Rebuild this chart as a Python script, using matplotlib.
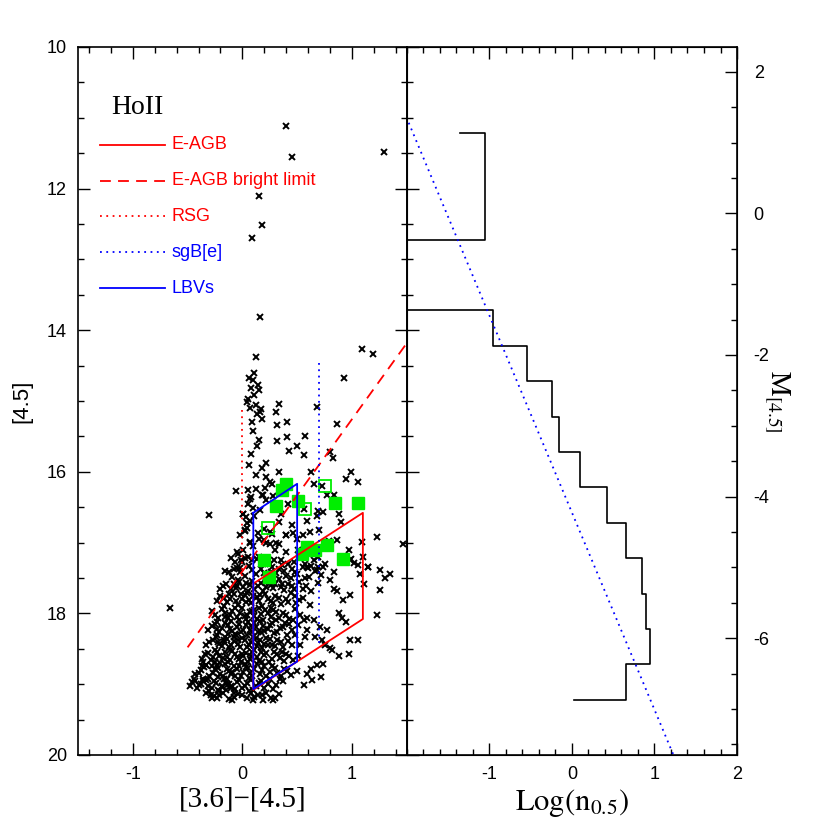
# CMD y función de luminosidad a 4.5 micras, Holmberg II

import numpy as np
import matplotlib
matplotlib.use('Agg')
import matplotlib.pyplot as plt
from matplotlib.ticker import MultipleLocator

plt.rcParams['font.family'] = 'Liberation Sans'
plt.rcParams['axes.unicode_minus'] = False
plt.rcParams['mathtext.fontset'] = 'stix'

# ---- Datos: fuentes puntuales ([3.6]-[4.5], [4.5]) ----
bright = np.array([[0.40, 11.12], [0.45, 11.55], [1.29, 11.48], [0.15, 12.10], [0.18, 12.51],
                   [0.09, 12.70], [0.16, 13.82], [0.12, 14.38], [1.09, 14.27], [1.19, 14.33],
                   [0.93, 14.67], [-0.30, 16.61], [-0.66, 17.93], [1.47, 17.02], [1.23, 16.92],
                   [1.09, 16.99]])

finger = np.array([[0.11, 14.61], [0.06, 14.67], [0.14, 14.78], [0.08, 14.81], [0.11, 14.91],
                   [0.05, 14.97], [0.07, 15.10], [0.17, 15.12], [0.13, 15.18], [0.16, 15.16],
                   [0.09, 15.30], [0.13, 15.63], [0.06, 15.90], [0.22, 15.87], [0.33, 15.04],
                   [0.31, 15.15], [0.32, 15.34], [0.41, 15.30], [0.32, 15.56], [0.41, 15.51],
                   [0.57, 15.49], [0.50, 15.63], [0.43, 15.71], [0.56, 15.77], [0.33, 16.00],
                   [0.22, 16.08], [0.25, 16.15], [0.27, 16.17], [0.68, 15.09], [0.86, 15.32],
                   [0.80, 15.72], [0.83, 15.80], [0.63, 16.00], [0.65, 16.17], [0.95, 16.10],
                   [0.99, 16.01], [1.06, 16.15], [0.84, 16.33], [0.73, 16.20], [0.77, 16.33],
                   [-0.06, 16.27], [0.10, 14.70], [0.15, 14.85], [0.04, 15.02], [0.12, 15.05],
                   [0.18, 15.25], [0.10, 15.42], [0.15, 15.55], [0.08, 15.75], [0.18, 15.95],
                   [0.12, 16.05]])

middle = np.array([[0.08, 16.35], [0.12, 16.25], [0.19, 16.33], [0.28, 16.34], [0.42, 16.45],
                   [0.56, 16.53], [0.01, 16.59], [0.03, 16.64], [0.10, 16.51], [0.11, 16.63],
                   [0.16, 16.54], [0.07, 16.70], [0.04, 16.79], [0.02, 16.84], [0.20, 16.81],
                   [0.14, 16.86], [0.25, 16.85], [0.27, 16.88], [0.33, 16.71], [0.59, 16.70],
                   [0.69, 16.55], [0.74, 16.57], [0.68, 16.62], [0.88, 16.59], [0.90, 16.71],
                   [0.70, 16.82], [0.62, 16.85], [0.55, 16.89], [0.40, 16.89], [0.46, 16.87],
                   [0.33, 17.02], [0.25, 17.02], [0.20, 16.97], [0.07, 17.00], [0.01, 17.11],
                   [-0.04, 17.16], [-0.07, 17.27], [-0.08, 17.37], [-0.01, 17.25], [0.05, 17.21],
                   [0.09, 17.25], [0.13, 17.23], [0.19, 17.30], [0.25, 17.30], [0.29, 17.25],
                   [0.40, 17.14], [0.42, 17.30], [0.51, 17.11], [0.57, 17.30], [0.65, 17.25],
                   [0.69, 17.21], [0.75, 17.30], [0.86, 16.97], [0.79, 16.98], [0.97, 17.10],
                   [0.99, 17.23], [1.02, 17.29], [1.15, 17.35], [0.63, 17.33], [0.69, 17.35],
                   [0.01, 16.59], [0.04, 16.73], [0.02, 16.82], [0.07, 16.99], [-0.05, 17.13],
                   [0.02, 17.22], [-0.02, 17.36], [0.22, 17.01], [0.31, 17.01], [0.40, 16.89],
                   [0.18, 16.33], [0.21, 16.23], [0.07, 16.38], [0.05, 16.26], [0.05, 16.45],
                   [0.22, 16.40], [0.35, 16.60], [0.45, 16.75], [0.15, 16.95], [0.30, 17.10],
                   [0.50, 16.95], [0.60, 17.05], [-0.02, 16.90], [0.10, 17.05]])

wing = np.array([[0.84, 17.66], [0.86, 17.69], [0.92, 17.81], [0.98, 17.74], [0.88, 18.00],
                 [0.91, 18.07], [0.95, 18.12], [0.98, 18.38], [1.06, 18.38], [0.97, 18.58],
                 [0.88, 18.60], [0.80, 18.49], [0.82, 18.52], [0.75, 18.45], [0.73, 18.38],
                 [0.71, 18.19], [0.77, 18.23], [0.66, 18.33], [0.65, 18.09], [0.59, 18.23],
                 [0.57, 18.33], [0.56, 18.10], [0.59, 18.07], [1.23, 18.02], [1.26, 17.67],
                 [1.10, 17.20], [1.11, 17.58], [1.15, 17.35], [1.07, 17.44], [1.06, 17.32],
                 [0.98, 17.25], [1.26, 17.39], [1.30, 17.50], [1.35, 17.44], [0.84, 17.41],
                 [0.80, 17.53], [0.74, 17.34], [0.68, 17.39], [0.59, 17.34], [0.72, 18.90],
                 [0.64, 18.94], [0.63, 18.78], [0.68, 18.73], [0.74, 18.71], [0.56, 19.01],
                 [0.59, 18.85]])

core = np.array([[-0.12, 17.42], [-0.05, 17.36], [0.02, 17.47], [0.06, 17.33], [0.12, 17.45],
                 [0.17, 17.38], [0.22, 17.48], [0.27, 17.35], [0.31, 17.43], [0.36, 17.31],
                 [0.40, 17.47], [0.45, 17.37], [0.50, 17.44], [0.55, 17.34], [0.61, 17.48],
                 [0.66, 17.40], [0.72, 17.46], [-0.09, 17.49],
                 [-0.15, 17.58], [-0.10, 17.66], [-0.03, 17.55], [0.01, 17.63], [0.05, 17.69],
                 [0.09, 17.54], [0.14, 17.61], [0.19, 17.68], [0.24, 17.56], [0.28, 17.64],
                 [0.33, 17.52], [0.38, 17.67], [0.42, 17.59], [0.47, 17.66], [0.52, 17.55],
                 [0.58, 17.62], [0.63, 17.69], [0.69, 17.57],
                 [-0.20, 17.76], [-0.14, 17.84], [-0.08, 17.73], [-0.04, 17.88], [0.00, 17.79],
                 [0.04, 17.71], [0.08, 17.86], [0.13, 17.77], [0.18, 17.89], [0.21, 17.72],
                 [0.26, 17.82], [0.30, 17.75], [0.35, 17.87], [0.40, 17.79], [0.44, 17.71],
                 [0.49, 17.85], [0.55, 17.78], [0.62, 17.88], [-0.17, 17.90],
                 [-0.25, 18.02], [-0.19, 17.94], [-0.13, 18.07], [-0.09, 17.97], [-0.05, 18.05],
                 [0.00, 17.92], [0.03, 18.08], [0.07, 17.98], [0.11, 18.04], [0.15, 17.93],
                 [0.19, 18.09], [0.23, 18.00], [0.28, 17.95], [0.33, 18.06], [0.37, 17.99],
                 [0.43, 18.08], [0.48, 17.94], [0.53, 18.03], [-0.02, 18.00],
                 [-0.28, 18.18], [-0.21, 18.26], [-0.16, 18.13], [-0.11, 18.22], [-0.07, 18.29],
                 [-0.03, 18.15], [0.01, 18.24], [0.05, 18.12], [0.09, 18.27], [0.12, 18.19],
                 [0.16, 18.11], [0.20, 18.25], [0.25, 18.16], [0.29, 18.28], [0.34, 18.21],
                 [0.39, 18.14], [0.45, 18.24], [0.51, 18.17], [-0.13, 18.29],
                 [-0.30, 18.41], [-0.24, 18.33], [-0.19, 18.46], [-0.14, 18.36], [-0.10, 18.44],
                 [-0.06, 18.31], [-0.02, 18.48], [0.02, 18.38], [0.06, 18.45], [0.10, 18.33],
                 [0.14, 18.42], [0.18, 18.49], [0.22, 18.35], [0.27, 18.44], [0.32, 18.37],
                 [0.37, 18.47], [0.42, 18.39], [0.48, 18.31], [0.53, 18.45], [-0.08, 18.39],
                 [-0.34, 18.58], [-0.29, 18.66], [-0.23, 18.55], [-0.18, 18.63], [-0.13, 18.69],
                 [-0.09, 18.53], [-0.05, 18.61], [-0.01, 18.68], [0.03, 18.56], [0.07, 18.64],
                 [0.11, 18.52], [0.15, 18.67], [0.20, 18.59], [0.24, 18.69], [0.29, 18.54],
                 [0.34, 18.63], [0.40, 18.57], [0.46, 18.66], [0.51, 18.60],
                 [-0.40, 18.84], [-0.35, 18.76], [-0.30, 18.88], [-0.25, 18.79], [-0.20, 18.86],
                 [-0.16, 18.72], [-0.12, 18.81], [-0.07, 18.89], [-0.03, 18.74], [0.01, 18.83],
                 [0.05, 18.77], [0.09, 18.88], [0.13, 18.72], [0.18, 18.80], [0.22, 18.89],
                 [0.27, 18.75], [0.32, 18.84], [0.38, 18.78], [0.44, 18.87], [0.50, 18.81],
                 [-0.46, 18.97], [-0.41, 19.05], [-0.36, 18.92], [-0.31, 19.02], [-0.26, 18.95],
                 [-0.21, 19.09], [-0.17, 18.93], [-0.12, 19.00], [-0.07, 19.07], [-0.03, 18.94],
                 [0.02, 19.03], [0.06, 18.91], [0.10, 19.08], [0.15, 18.98], [0.20, 19.05],
                 [0.25, 18.93], [0.31, 19.01], [0.37, 18.96],
                 [-0.33, 19.13], [-0.26, 19.17], [-0.18, 19.12], [-0.12, 19.21], [-0.04, 19.14],
                 [0.04, 19.19], [0.08, 19.13], [0.14, 19.16], [0.22, 19.12], [0.26, 19.20],
                 [-0.18, 17.62], [-0.11, 17.80], [-0.06, 17.64], [0.03, 17.84], [0.07, 17.60],
                 [-0.16, 18.05], [-0.10, 18.11], [0.04, 18.02], [0.08, 18.18], [-0.23, 18.30],
                 [-0.17, 18.40], [-0.11, 18.52], [-0.04, 18.37], [0.00, 18.57], [0.04, 18.31],
                 [-0.20, 18.70], [-0.14, 18.61], [-0.08, 18.75], [0.02, 18.71], [0.08, 18.60],
                 [-0.27, 18.62], [-0.22, 18.90], [-0.15, 18.98], [-0.10, 18.85], [0.12, 18.35],
                 [0.17, 18.55], [0.17, 18.26], [0.23, 18.45], [0.11, 17.95], [0.16, 17.74],
                 [0.26, 17.92], [0.31, 18.10], [0.35, 17.63], [0.44, 17.50], [0.38, 17.40],
                 [0.30, 17.58], [0.48, 17.75], [0.57, 17.50], [0.41, 18.30], [0.36, 18.55],
                 [-0.04, 17.53], [-0.05, 17.62], [-0.01, 17.72]])

core_fill = np.array([[-0.10, 17.22], [0.00, 17.28], [0.15, 17.20], [0.35, 17.24], [0.47, 17.27],
                      [0.53, 17.21], [-0.16, 17.40], [-0.02, 17.42], [0.09, 17.39], [0.20, 17.43],
                      [0.26, 17.41], [0.33, 17.38], [0.48, 17.41], [0.60, 17.36], [-0.20, 17.66],
                      [-0.08, 17.59], [0.03, 17.57], [0.11, 17.66], [0.17, 17.57], [0.22, 17.63],
                      [0.26, 17.60], [0.36, 17.58], [0.45, 17.62], [0.55, 17.66], [-0.23, 17.83],
                      [-0.17, 17.78], [-0.12, 17.73], [-0.06, 17.82], [0.02, 17.74], [0.06, 17.81],
                      [0.10, 17.76], [0.15, 17.83], [0.23, 17.80], [0.28, 17.86], [0.33, 17.78],
                      [0.42, 17.84], [0.52, 17.81], [-0.28, 17.97], [-0.22, 18.06], [-0.16, 17.99],
                      [-0.11, 18.02], [-0.07, 17.93], [-0.03, 18.09], [0.02, 18.04], [0.09, 17.96],
                      [0.13, 18.08], [0.17, 18.01], [0.21, 17.95], [0.26, 18.05], [0.31, 17.98],
                      [0.40, 18.02], [0.46, 18.10], [-0.31, 18.24], [-0.25, 18.15], [-0.19, 18.20],
                      [-0.13, 18.16], [-0.09, 18.25], [-0.05, 18.19], [-0.01, 18.27], [0.03, 18.17],
                      [0.07, 18.23], [0.11, 18.14], [0.14, 18.26], [0.19, 18.18], [0.23, 18.22],
                      [0.27, 18.13], [0.32, 18.26], [0.37, 18.19], [0.43, 18.15], [-0.33, 18.45],
                      [-0.27, 18.38], [-0.21, 18.43], [-0.16, 18.34], [-0.12, 18.47], [-0.08, 18.33],
                      [-0.04, 18.43], [0.00, 18.35], [0.04, 18.47], [0.08, 18.40], [0.13, 18.46],
                      [0.16, 18.37], [0.20, 18.43], [0.25, 18.36], [0.30, 18.46], [0.35, 18.40],
                      [0.45, 18.44], [-0.37, 18.64], [-0.31, 18.56], [-0.25, 18.68], [-0.21, 18.60],
                      [-0.16, 18.55], [-0.11, 18.66], [-0.07, 18.58], [-0.03, 18.65], [0.01, 18.60],
                      [0.05, 18.68], [0.09, 18.55], [0.13, 18.62], [0.18, 18.68], [0.22, 18.56],
                      [0.27, 18.64], [0.32, 18.58], [0.38, 18.67], [0.43, 18.60], [-0.43, 18.86],
                      [-0.38, 18.80], [-0.33, 18.73], [-0.27, 18.84], [-0.22, 18.77], [-0.18, 18.89],
                      [-0.14, 18.78], [-0.09, 18.83], [-0.05, 18.79], [-0.01, 18.88], [0.03, 18.76],
                      [0.07, 18.84], [0.11, 18.79], [0.16, 18.86], [0.20, 18.75], [0.25, 18.83],
                      [0.30, 18.77], [0.35, 18.88], [0.41, 18.82], [-0.48, 19.02], [-0.44, 18.93],
                      [-0.38, 19.00], [-0.33, 18.94], [-0.28, 19.06], [-0.24, 18.98], [-0.19, 19.02],
                      [-0.14, 18.92], [-0.10, 19.03], [-0.05, 18.97], [0.00, 19.06], [0.04, 18.98],
                      [0.08, 18.94], [0.12, 19.02], [0.17, 18.95], [0.23, 19.00], [0.28, 19.07],
                      [0.34, 18.92], [-0.30, 19.10], [-0.21, 19.15], [-0.15, 19.08], [-0.08, 19.12],
                      [0.00, 19.16], [0.06, 19.10], [0.11, 19.18], [0.18, 19.15], [0.33, 19.14]])

tail = np.array([[-0.23, 18.12], [-0.23, 18.22], [-0.17, 18.38], [-0.22, 18.40], [-0.25, 18.52],
                 [-0.36, 18.68], [-0.33, 18.73], [-0.37, 18.75], [-0.28, 18.75], [-0.23, 18.73],
                 [-0.43, 18.95], [-0.40, 19.01], [-0.36, 18.96], [-0.31, 18.92], [-0.29, 19.15],
                 [-0.28, 19.19], [-0.23, 19.20], [-0.22, 19.08], [-0.19, 19.04], [-0.14, 19.01],
                 [-0.10, 19.06], [-0.09, 19.22], [-0.08, 19.18], [0.10, 19.22], [0.19, 19.22],
                 [0.28, 19.22], [0.30, 19.20]])

# estrellas masivas conocidas (cuadros verdes)
green_x = [0.36, 0.40, 0.31, 0.51, 0.85, 1.06, 0.59, 0.66, 0.77, 0.54, 0.92, 0.20, 0.24]
green_m = [16.26, 16.17, 16.48, 16.41, 16.44, 16.44, 17.06, 17.10, 17.03, 17.16, 17.23, 17.25, 17.49]
open_x = [0.75, 0.57, 0.23]
open_m = [16.20, 16.52, 16.79]

# regiones de referencia
eagb_x = [0.1, 1.1, 1.1, 0.1, 0.1]
eagb_m = [17.58, 16.58, 18.08, 19.08, 17.58]
bright_lim_x = [-0.5, 1.6]
bright_lim_m = [18.48, 13.97]
rsg_x = [0.0, 0.0]
rsg_m = [15.13, 17.5]
sgbe_x = [0.7, 0.7]
sgbe_m = [14.47, 18.47]
lbv_x = [0.1, 0.5, 0.5, 0.1, 0.1]
lbv_m = [16.58, 16.17, 18.68, 19.07, 16.58]

# histograma: bordes en [4.5] y log(n) por bin de 0.5 mag (vacíos = -inf)
hist_edges = 11.22 + 0.5 * np.arange(17)
hist_logn = np.array([-1.05, -1.05, -1.05, -np.inf, -np.inf, -0.96, -0.54, -0.24,
                      -0.15, 0.10, 0.42, 0.66, 0.85, 0.90, 0.95, 0.65])
hist_start, hist_end = -1.35, 0.03
fit_m = [10.0, 20.0]
fit_logn = [-2.36, 1.23]

RED = '#ff0000'
BLUE = '#0000ff'
GREEN = '#00ee00'

fig = plt.figure(figsize=(8.3, 8.3), dpi=100)
ax = fig.add_axes([0.094, 0.0904, 0.396, 0.853])
axh = fig.add_axes([0.490, 0.0904, 0.398, 0.853], sharey=ax)

# panel izquierdo: CMD
pts = np.vstack([bright, finger, middle, wing, core, core_fill, tail])
ax.plot(pts[:, 0], pts[:, 1], 'x', color='black', ms=5, mew=1.4, zorder=2)
ax.plot(green_x, green_m, 's', color=GREEN, ms=8.5, mec=GREEN, zorder=3)
ax.plot(open_x, open_m, 's', mfc='none', mec=GREEN, ms=8.5, mew=1.3, zorder=3)

ax.plot(eagb_x, eagb_m, color=RED, lw=1.3, zorder=4)
ax.plot(bright_lim_x, bright_lim_m, color=RED, lw=1.3, dashes=(6, 4), zorder=4)
ax.plot(rsg_x, rsg_m, color=RED, lw=1.3, ls=(0, (1, 2.5)), zorder=4)
ax.plot(sgbe_x, sgbe_m, color=BLUE, lw=1.3, ls=(0, (1, 2.5)), zorder=4)
ax.plot(lbv_x, lbv_m, color=BLUE, lw=1.3, zorder=5)

# leyenda manual
entries = [('E-AGB', RED, '-'), ('E-AGB bright limit', RED, (0, (6, 4))),
           ('RSG', RED, (0, (1, 2.5))), ('sgB[e]', BLUE, (0, (1, 2.5))),
           ('LBVs', BLUE, '-')]
for i, (lab, col, ls) in enumerate(entries):
    yy = 0.862 - 0.0507 * i
    ax.plot([0.067, 0.265], [yy, yy], transform=ax.transAxes, color=col, ls=ls, lw=1.3)
    ax.text(0.285, yy, lab, transform=ax.transAxes, color=col, fontsize=13, va='center')
ax.text(0.10, 0.915, 'HoII', transform=ax.transAxes, fontsize=20,
        family='Liberation Serif', va='center')

ax.set_xlim(-1.5, 1.5)
ax.set_ylim(20, 10)
ax.xaxis.set_major_locator(MultipleLocator(1))
ax.xaxis.set_minor_locator(MultipleLocator(0.2))
ax.yaxis.set_major_locator(MultipleLocator(2))
ax.yaxis.set_minor_locator(MultipleLocator(0.5))
ax.set_xlabel('[3.6]\u2212[4.5]', fontsize=21, family='Liberation Serif')
ax.xaxis.set_label_coords(0.5, -0.045)
ax.set_ylabel('[4.5]', fontsize=16)
ax.yaxis.set_label_coords(-0.14, 0.5)

# panel derecho: función de luminosidad
vals = np.where(np.isfinite(hist_logn), hist_logn, -10)
hx = np.concatenate([[hist_start], np.repeat(vals, 2), [hist_end]])
hy = np.repeat(hist_edges, 2)
axh.plot(hx, hy, color='black', lw=1.2)
axh.plot(fit_logn, fit_m, color=BLUE, lw=1.3, ls=(0, (1, 2.5)))
axh.set_xlim(-2, 2)
axh.set_xticks([-1, 0, 1, 2])
axh.xaxis.set_minor_locator(MultipleLocator(0.2))
axh.set_xlabel(r'$\mathrm{Log(n_{0.5})}$', fontsize=22)
axh.xaxis.set_label_coords(0.5, -0.045)

for a in (ax, axh):
    a.tick_params(which='both', direction='in', top=True, labelsize=13, width=1.0)
    a.tick_params(which='major', length=8.5, pad=8)
    a.tick_params(which='minor', length=4)
    for s in a.spines.values():
        s.set_linewidth(1.2)
ax.tick_params(which='both', right=True)
axh.tick_params(which='both', left=False, right=False, labelleft=False)

axm = axh.twinx()
axm.set_ylim(-7.65, 2.35)
axm.yaxis.set_major_locator(MultipleLocator(2))
axm.yaxis.set_minor_locator(MultipleLocator(0.5))
axm.tick_params(which='both', direction='in', labelsize=13, width=1.0)
axm.tick_params(which='major', length=8.5, pad=12)
axm.tick_params(which='minor', length=4)
axm.set_ylabel(r'$\mathrm{M_{[4.5]}}$', fontsize=20, rotation=-90)
axm.yaxis.set_label_coords(1.165, 0.5)

fig.savefig('out.png', dpi=100)
